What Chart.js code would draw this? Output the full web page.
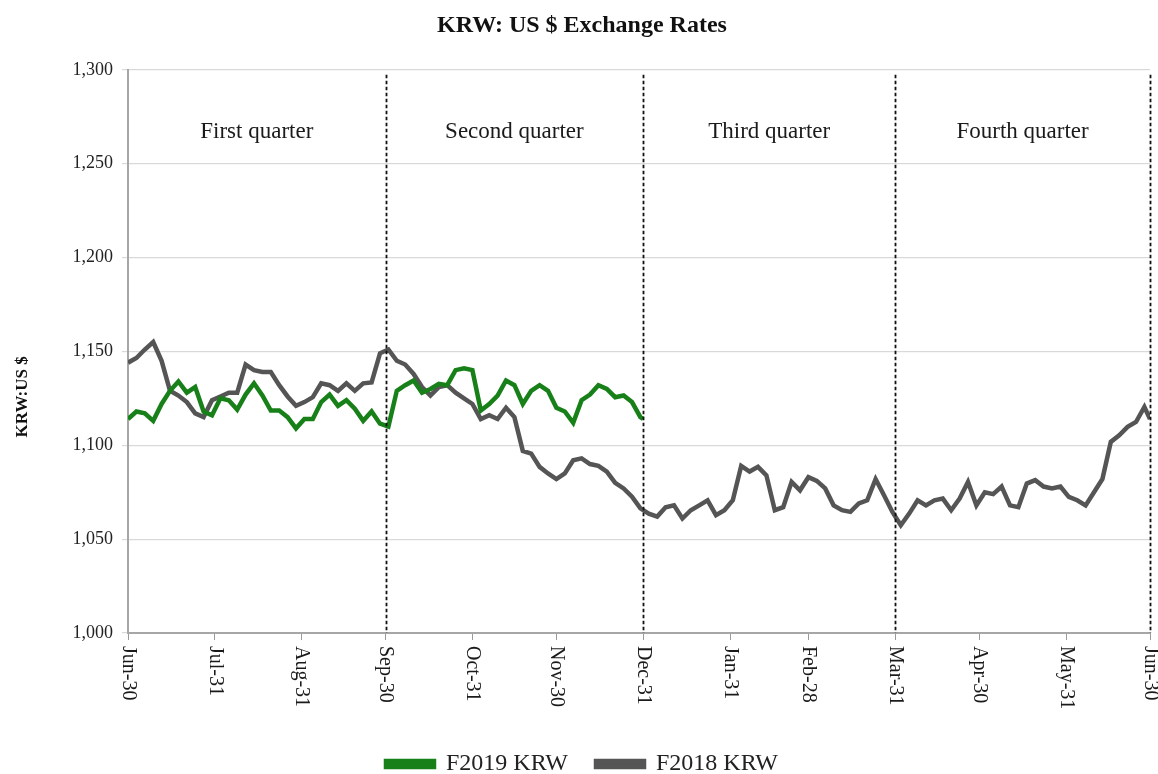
<!DOCTYPE html>
<html>
<head>
<meta charset="utf-8">
<script src="https://cdn.jsdelivr.net/npm/chart.js@4.4.0/dist/chart.umd.min.js"></script>
<style>
    html, body { margin: 0; padding: 0; background: #fff; }
</style>
</head>
<body>
<canvas id="krwChart" width="1158" height="774"></canvas>
<script>
// days counted from Jun-30, one reading every 3 days
const STEP_DAYS = 3;
const LAST_DAY_2019 = 184;
const LAST_DAY_2018 = 365;

const tickDays = [0, 31, 62, 92, 123, 153, 184, 215, 243, 274, 304, 335, 365];
const tickLabels = ["Jun-30", "Jul-31", "Aug-31", "Sep-30", "Oct-31", "Nov-30", "Dec-31",
    "Jan-31", "Feb-28", "Mar-31", "Apr-30", "May-31", "Jun-30"];

const quarterBounds = [0, 92, 184, 274, 365];
const quarterNames = ["First quarter", "Second quarter", "Third quarter", "Fourth quarter"];

const krw2019 = [
    1114, 1118, 1117, 1113, 1122, 1129, 1134, 1128, 1131, 1118, 1116, 1125, 1124, 1119, 1127, 1133, 1126.5, 1118.5, 1118.5, 1115, 1109,
    1114, 1114, 1123, 1127, 1121, 1124, 1119.5, 1113, 1118, 1111.5, 1110, 1129, 1132, 1134.5, 1128, 1130, 1132.7, 1132, 1140, 1141,
    1140, 1118.5, 1122, 1126.5, 1134.5, 1132, 1122, 1129, 1132, 1129, 1120, 1118, 1112, 1124, 1127, 1132, 1130, 1125.6, 1126.5, 1123, 1115,
    1114
];

const krw2018 = [
    1144, 1146.5, 1151, 1155, 1145, 1129, 1126.5, 1123, 1117, 1115, 1124, 1126, 1128, 1128, 1143, 1140, 1139, 1139, 1132, 1126, 1121,
    1123, 1125.6, 1133, 1132, 1129, 1133, 1129, 1133, 1133.5, 1149, 1151, 1145, 1143, 1138, 1131, 1126.5, 1131, 1132, 1128, 1125,
    1122, 1114, 1116, 1114, 1120, 1115, 1097, 1095.6, 1088.5, 1085, 1082, 1085, 1092, 1093, 1090, 1089, 1086, 1080, 1077, 1072.6, 1066.4,
    1063.6, 1062, 1067, 1068, 1061, 1065.4, 1068, 1070.7, 1062.8, 1065.4, 1070.7, 1089, 1086, 1088.5, 1084, 1065.4, 1067, 1080.5, 1076, 1083, 1081,
    1077, 1068, 1065.4, 1064.5, 1069, 1070.7, 1082, 1073.4, 1064.5, 1057.4, 1063.6, 1070.7, 1068, 1070.7, 1071.6, 1065.4, 1071.6, 1080.5, 1068, 1075,
    1074, 1078, 1068, 1067, 1079.6, 1081.4, 1078, 1077, 1078, 1072.5, 1070.7, 1068, 1075, 1082, 1101.8, 1105.3, 1109.8, 1112.4, 1120.4,
    1114
];

const yAxisTitle = "KRW:US $";

const SERIF = "'Liberation Serif', 'Times New Roman', serif";

function toPoints(values, lastDay) {
    return values.map((v, i) => ({ x: Math.min(i * STEP_DAYS, lastDay), y: v }));
}

// dashed quarter dividers, quarter names, axis title and the downward month labels
const quarterPlugin = {
    id: "quarterPlugin",
    afterDraw(chart) {
        const { ctx, chartArea, scales } = chart;
        const xs = scales.x;
        const ys = scales.y;

        ctx.save();
        ctx.strokeStyle = "#111";
        ctx.lineWidth = 1.8;
        ctx.setLineDash([3.5, 2.5]);
        quarterBounds.slice(1).forEach((d) => {
            const px = Math.round(xs.getPixelForValue(d)) + 0.5;
            ctx.beginPath();
            ctx.moveTo(px, chartArea.top + 5);
            ctx.lineTo(px, chartArea.bottom);
            ctx.stroke();
        });
        ctx.setLineDash([]);

        ctx.fillStyle = "#1a1a1a";
        ctx.font = "23px " + SERIF;
        ctx.textAlign = "center";
        ctx.textBaseline = "middle";
        const labelY = ys.getPixelForValue(1267);
        quarterNames.forEach((name, i) => {
            const mid = (xs.getPixelForValue(quarterBounds[i]) + xs.getPixelForValue(quarterBounds[i + 1])) / 2;
            ctx.fillText(name, mid, labelY);
        });

        // y title sits centred on plot + month labels, as in the source
        ctx.save();
        ctx.fillStyle = "#111";
        ctx.font = "bold 17px " + SERIF;
        ctx.translate(ys.left + 9, (chartArea.top + xs.bottom) / 2);
        ctx.rotate(-Math.PI / 2);
        ctx.fillText(yAxisTitle, 0, 0);
        ctx.restore();

        ctx.font = "20px " + SERIF;
        ctx.textAlign = "left";
        tickDays.forEach((d, i) => {
            ctx.save();
            ctx.translate(xs.getPixelForValue(d), chartArea.bottom + 13);
            ctx.rotate(Math.PI / 2);
            ctx.fillText(tickLabels[i], 0, 0);
            ctx.restore();
        });
        ctx.restore();
    },
};

const ctx = document.getElementById("krwChart").getContext("2d");

new Chart(ctx, {
    type: "line",
    data: {
        datasets: [
            {
                label: "F2019 KRW",
                data: toPoints(krw2019, LAST_DAY_2019),
                borderColor: "#188018",
                backgroundColor: "#188018",
                borderWidth: 4.5,
                pointRadius: 0,
                tension: 0,
            },
            {
                label: "F2018 KRW",
                data: toPoints(krw2018, LAST_DAY_2018),
                borderColor: "#555555",
                backgroundColor: "#555555",
                borderWidth: 4.5,
                pointRadius: 0,
                tension: 0,
            },
        ],
    },
    options: {
        responsive: false,
        animation: false,
        layout: { padding: { left: 14, right: 8, top: 0, bottom: -12 } },
        scales: {
            x: {
                type: "linear",
                min: 0,
                max: 365,
                afterBuildTicks: (scale) => {
                    scale.ticks = tickDays.map((d) => ({ value: d }));
                },
                afterFit: (scale) => {
                    scale.height = 91;
                },
                ticks: { display: false },
                grid: {
                    drawOnChartArea: false,
                    drawTicks: true,
                    tickLength: 7,
                    color: "#9a9a9a",
                },
                border: { color: "#a6a6a6", width: 2 },
            },
            y: {
                min: 1000,
                max: 1300,
                afterFit: (scale) => {
                    scale.width = 114;
                },
                ticks: {
                    stepSize: 50,
                    color: "#222",
                    padding: 9,
                    font: { family: SERIF, size: 18 },
                    callback: (v) => v.toLocaleString("en-US"),
                },
                grid: {
                    color: "#d9d9d9",
                    lineWidth: 1.2,
                    tickLength: 6,
                },
                border: { color: "#a6a6a6", width: 2 },
            },
        },
        plugins: {
            title: {
                display: true,
                text: "KRW: US $ Exchange Rates",
                color: "#111",
                font: { family: SERIF, size: 24, weight: "bold" },
                padding: { top: 11, bottom: 30 },
            },
            legend: {
                display: true,
                position: "bottom",
                labels: {
                    color: "#222",
                    boxWidth: 48,
                    boxHeight: 6,
                    padding: 28,
                    font: { family: SERIF, size: 24 },
                },
            },
            tooltip: { enabled: false },
        },
    },
    plugins: [quarterPlugin],
});
</script>
</body>
</html>
